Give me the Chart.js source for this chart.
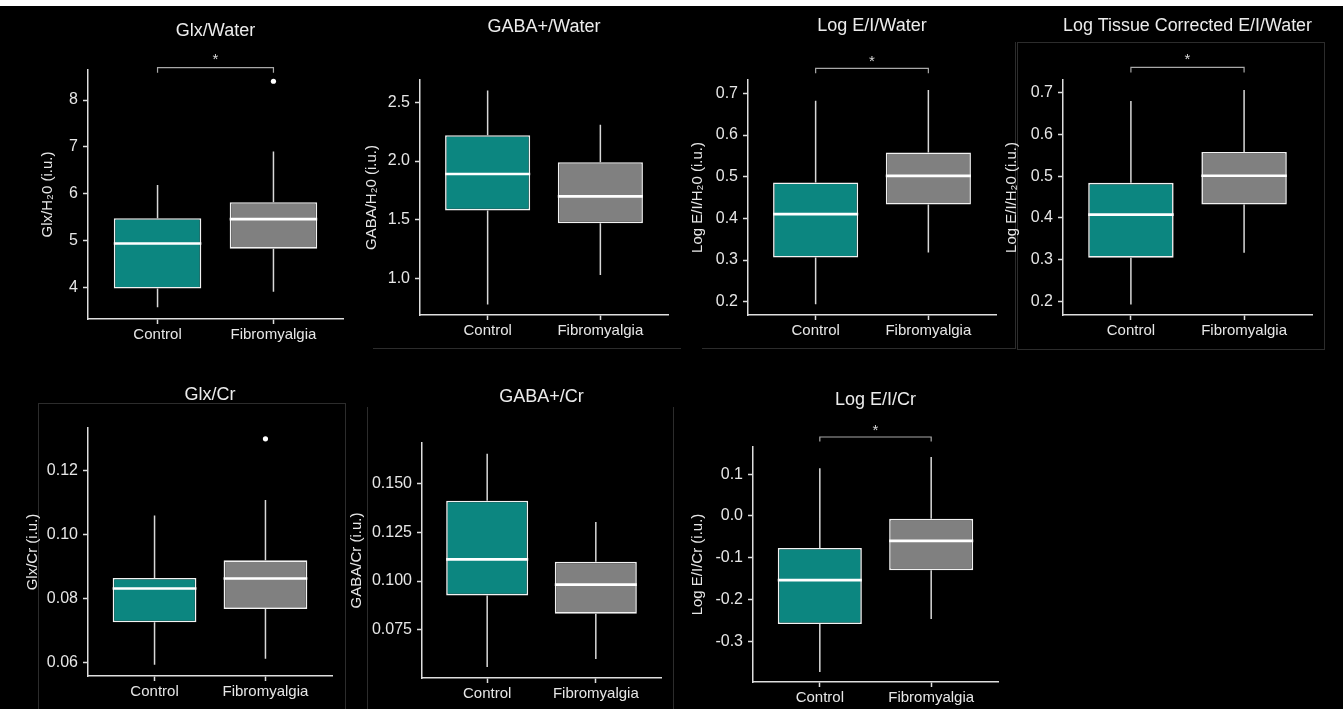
<!DOCTYPE html>
<html>
<head>
<meta charset="utf-8">
<title>MRS box plots</title>
<script src="https://cdn.jsdelivr.net/npm/chart.js@4.4.0/dist/chart.umd.min.js"></script>
<style>
  body { margin: 0; background: #000; width: 1343px; height: 709px; overflow: hidden; position: relative; }
  .band { position: absolute; left: 0; top: 0; width: 1343px; height: 6px; background: #fff; }
  .frame { position: absolute; border: 1px solid #2c2c2c; box-sizing: border-box; }
  .panel { position: absolute; }
</style>
</head>
<body>
<div class="band"></div>
<div class="frame" style="left:1017px;top:42px;width:308px;height:308px;"></div>
<div class="frame" style="left:38px;top:403px;width:308px;height:320px;"></div>
<div class="frame" style="left:367px;top:407px;width:307px;height:320px;border-top:none;"></div>
<div class="frame" style="left:373px;top:348px;width:308px;height:1px;border-width:1px 0 0 0;"></div>
<div class="frame" style="left:702px;top:42px;width:314px;height:307px;border-width:0 1px 1px 0;"></div>

<script>
const groups = ['Control', 'Fibromyalgia'];

// box stats: [lower whisker, Q1, median, Q3, upper whisker]
const glxWaterControl = [3.58, 3.98, 4.94, 5.48, 6.19];
const glxWaterFibro = [3.91, 4.83, 5.46, 5.82, 6.90];
const glxWaterOutliers = [[], [8.40]];
const glxWaterTicks = [4, 5, 6, 7, 8];
const glxWaterRange = [3.33, 8.64];
const glxWaterBracket = [8.58, 8.69];

const gabaWaterControl = [0.78, 1.58, 1.89, 2.22, 2.60];
const gabaWaterFibro = [1.03, 1.47, 1.70, 1.99, 2.31];
const gabaWaterTicks = [1.0, 1.5, 2.0, 2.5];
const gabaWaterRange = [0.69, 2.69];

const eiWaterControl = [0.194, 0.306, 0.410, 0.486, 0.682];
const eiWaterFibro = [0.318, 0.433, 0.502, 0.558, 0.708];
const eiWaterTicks = [0.2, 0.3, 0.4, 0.5, 0.6, 0.7];
const eiWaterRange = [0.168, 0.732];
const eiWaterBracket = [0.748, 0.760];

const eiTissueControl = [0.193, 0.305, 0.408, 0.484, 0.680];
const eiTissueFibro = [0.317, 0.432, 0.501, 0.558, 0.706];
const eiTissueTicks = [0.2, 0.3, 0.4, 0.5, 0.6, 0.7];
const eiTissueRange = [0.168, 0.730];
const eiTissueBracket = [0.748, 0.760];

const glxCrControl = [0.0593, 0.0726, 0.0832, 0.0865, 0.1060];
const glxCrFibro = [0.0612, 0.0768, 0.0863, 0.0920, 0.1109];
const glxCrOutliers = [[], [0.130]];
const glxCrTicks = [0.06, 0.08, 0.10, 0.12];
const glxCrRange = [0.0558, 0.1334];

const gabaCrControl = [0.0558, 0.0926, 0.1112, 0.1414, 0.1656];
const gabaCrFibro = [0.0599, 0.0832, 0.0982, 0.1100, 0.1304];
const gabaCrTicks = [0.075, 0.100, 0.125, 0.150];
const gabaCrRange = [0.0501, 0.1711];

const eiCrControl = [-0.374, -0.259, -0.154, -0.077, 0.114];
const eiCrFibro = [-0.247, -0.130, -0.060, -0.007, 0.141];
const eiCrTicks = [-0.3, -0.2, -0.1, 0.0, 0.1];
const eiCrRange = [-0.398, 0.165];
const eiCrBracket = [0.178, 0.189];

const panels = [
  { title: 'Glx/Water', yTitle: 'Glx/H\u20820 (i.u.)', stats: [glxWaterControl, glxWaterFibro], outliers: glxWaterOutliers, ticks: glxWaterTicks, range: glxWaterRange, bracket: glxWaterBracket, dec: 0 },
  { title: 'GABA+/Water', yTitle: 'GABA/H\u20820 (i.u.)', stats: [gabaWaterControl, gabaWaterFibro], ticks: gabaWaterTicks, range: gabaWaterRange, dec: 1 },
  { title: 'Log E/I/Water', yTitle: 'Log E/I/H\u20820 (i.u.)', stats: [eiWaterControl, eiWaterFibro], ticks: eiWaterTicks, range: eiWaterRange, bracket: eiWaterBracket, dec: 1 },
  { title: 'Log Tissue Corrected E/I/Water', yTitle: 'Log E/I/H\u20820 (i.u.)', stats: [eiTissueControl, eiTissueFibro], ticks: eiTissueTicks, range: eiTissueRange, bracket: eiTissueBracket, dec: 1 },
  { title: 'Glx/Cr', yTitle: 'Glx/Cr (i.u.)', stats: [glxCrControl, glxCrFibro], outliers: glxCrOutliers, ticks: glxCrTicks, range: glxCrRange, dec: 2 },
  { title: 'GABA+/Cr', yTitle: 'GABA/Cr (i.u.)', stats: [gabaCrControl, gabaCrFibro], ticks: gabaCrTicks, range: gabaCrRange, dec: 3 },
  { title: 'Log E/I/Cr', yTitle: 'Log E/I/Cr (i.u.)', stats: [eiCrControl, eiCrFibro], ticks: eiCrTicks, range: eiCrRange, bracket: eiCrBracket, dec: 1 }
];

// page layout: plot area [left, top, right, bottom], title / star centre y, y-title distance from axis
const layout = [
  { area: [88, 70, 343, 319], titleY: 31, starY: 57, yTitleOff: 40 },
  { area: [420, 80, 668, 315], titleY: 27, yTitleOff: 48 },
  { area: [748, 80, 996, 315], titleY: 26, starY: 59, yTitleOff: 50 },
  { area: [1063, 80, 1312, 315], titleY: 26, starY: 57, yTitleOff: 51 },
  { area: [88, 428, 332, 676], titleY: 395, yTitleOff: 55 },
  { area: [422, 443, 661, 678], titleY: 397, yTitleOff: 65 },
  { area: [753, 447, 998, 682], titleY: 400, starY: 428, yTitleOff: 55 }
];

Chart.defaults.font.family = "'Liberation Sans', Arial, sans-serif";
Chart.defaults.color = '#e6e6e6';
Chart.defaults.animation = false;

const TEAL = '#0c8680';
const GREY = '#808080';
const AXIS = '#dedede';
const BOX_W = 0.755;   // box width as share of group spacing
const X_PAD = 0.6;     // space left/right of outer groups
const X_AXIS_H = 34;
const TITLE_SIZE = 18;
const STAR_SIZE = 15;

function buildPanel(p, lay) {
  const [L, T, R, B] = lay.area;
  const yW = lay.yTitleOff + 9;
  const left = L - yW, top = lay.titleY - 14;
  const wrap = document.createElement('div');
  wrap.className = 'panel';
  wrap.style.left = left + 'px';
  wrap.style.top = top + 'px';
  wrap.style.width = (R + 12 - left) + 'px';
  wrap.style.height = (B + X_AXIS_H + 2 - top) + 'px';
  const cv = document.createElement('canvas');
  wrap.appendChild(cv);
  document.body.appendChild(wrap);

  // title / star block heights so the plot area lands where it should
  const titleLH = TITLE_SIZE * 1.2, starLH = STAR_SIZE * 1.2;
  const titlePadTop = 14 - titleLH / 2;
  const afterTitle = top + titlePadTop + titleLH;
  let titlePadBottom, starPadBottom = 0;
  if (p.bracket) {
    titlePadBottom = (lay.starY + 3) - starLH / 2 - afterTitle;
    starPadBottom = T - (afterTitle + titlePadBottom + starLH);
  } else {
    titlePadBottom = T - afterTitle;
  }

  const half = BOX_W / 2;
  const boxes = [], whiskers = [], medians = [], points = [];
  p.stats.forEach((s, i) => {
    const x = i + 1;
    boxes.push({ x: x, y: [s[1], s[3]] });
    whiskers.push({ x: x, y: s[0] }, { x: x, y: s[1] }, { x: x, y: null },
                  { x: x, y: s[3] }, { x: x, y: s[4] }, { x: x, y: null });
    medians.push({ x: x - half, y: s[2] }, { x: x + half, y: s[2] }, { x: x, y: null });
    if (p.outliers) p.outliers[i].forEach(v => points.push({ x: x, y: v }));
  });

  const datasets = [
    { type: 'line', data: medians, borderColor: '#ffffff', borderWidth: 2.6, pointRadius: 0, order: 0 },
    { type: 'line', data: points, showLine: false, pointRadius: 2.6, pointBackgroundColor: '#ffffff', pointBorderWidth: 0, order: 0 },
    { type: 'bar', data: boxes, backgroundColor: [TEAL, GREY], borderColor: '#f2f2f2', borderWidth: 1.6,
      borderSkipped: false, barPercentage: BOX_W, categoryPercentage: 1, order: 1 },
    { type: 'line', data: whiskers, borderColor: '#d8d8d8', borderWidth: 1.5, pointRadius: 0, order: 2 }
  ];
  if (p.bracket) {
    const b = p.bracket;
    datasets.push({ type: 'line', data: [{ x: 1, y: b[0] }, { x: 1, y: b[1] }, { x: 2, y: b[1] }, { x: 2, y: b[0] }],
      borderColor: '#a8a8a8', borderWidth: 1.2, pointRadius: 0, clip: false, order: 3 });
  }

  new Chart(cv, {
    type: 'bar',
    data: { datasets: datasets },
    options: {
      responsive: true,
      maintainAspectRatio: false,
      layout: { padding: { left: 0, right: 12, top: 0, bottom: 2 } },
      plugins: {
        legend: { display: false },
        tooltip: { enabled: false },
        title: {
          display: true, text: p.title, fullSize: false, color: '#ececec',
          font: { size: TITLE_SIZE, weight: 'normal' },
          padding: { top: titlePadTop, bottom: titlePadBottom }
        },
        subtitle: {
          display: !!p.bracket, text: '*', fullSize: false, color: '#d8d8d8',
          font: { size: STAR_SIZE },
          padding: { top: 0, bottom: starPadBottom }
        }
      },
      scales: {
        x: {
          type: 'linear',
          min: 1 - X_PAD, max: 2 + X_PAD,
          offset: false,
          afterBuildTicks: s => { s.ticks = groups.map((g, i) => ({ value: i + 1 })); },
          afterFit: s => { s.height = X_AXIS_H; },
          ticks: { callback: v => groups[v - 1], font: { size: 15 }, color: '#e6e6e6', padding: 2, maxRotation: 0 },
          grid: { offset: false, drawOnChartArea: false, drawTicks: true, tickLength: 5, tickColor: AXIS, tickWidth: 1.5 },
          border: { display: true, color: AXIS, width: 1.5 }
        },
        y: {
          type: 'linear',
          min: p.range[0], max: p.range[1],
          beginAtZero: false,
          afterBuildTicks: s => { s.ticks = p.ticks.map(v => ({ value: v })); },
          afterFit: s => { s.width = yW; },
          ticks: { callback: v => v.toFixed(p.dec), font: { size: 16 }, color: '#e6e6e6', padding: 5 },
          grid: { drawOnChartArea: false, drawTicks: true, tickLength: 5, tickColor: AXIS, tickWidth: 1.5 },
          border: { display: true, color: AXIS, width: 1.5 },
          title: { display: true, text: p.yTitle, color: '#e6e6e6', font: { size: 15 }, padding: { top: 0, bottom: 0 } }
        }
      }
    }
  });
}

panels.forEach((p, i) => buildPanel(p, layout[i]));
</script>
</body>
</html>
